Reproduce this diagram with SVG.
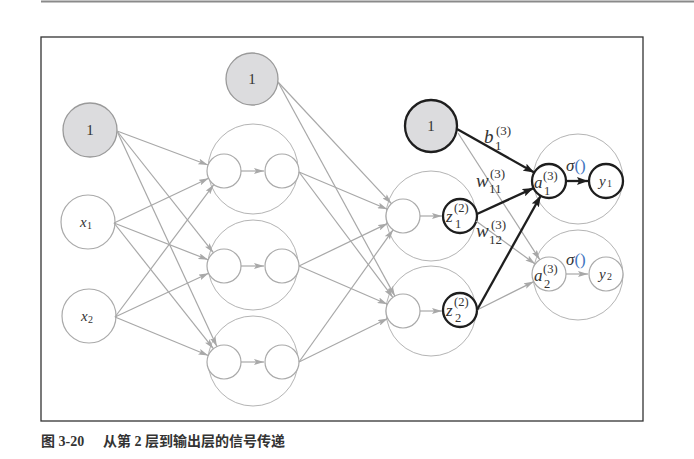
<svg xmlns="http://www.w3.org/2000/svg" width="694" height="459" viewBox="0 0 694 459">
<defs>
<marker id="ag" viewBox="0 0 10 6" refX="10" refY="3" markerWidth="10" markerHeight="6" markerUnits="userSpaceOnUse" orient="auto">
<path d="M0,0 L10,3 L0,6 L2,3 Z" fill="#a8a8a8"/>
</marker>
<marker id="ab" viewBox="0 0 11 8" refX="11" refY="4" markerWidth="11" markerHeight="8" markerUnits="userSpaceOnUse" orient="auto">
<path d="M0,0 L11,4 L0,8 L2,4 Z" fill="#1e1e1e"/>
</marker>
</defs>
<style>
.big{fill:none;stroke:#b4b4b4;stroke-width:1}
.sm{fill:#fff;stroke:#aaa;stroke-width:1.2}
.smk{fill:#fff;stroke:#1e1e1e;stroke-width:2.3}
.bias{fill:#dcdcde;stroke:#9a9a9a;stroke-width:1.3}
.biask{fill:#dcdcde;stroke:#1e1e1e;stroke-width:2.3}
.eg{stroke:#a8a8a8;stroke-width:1.2;fill:none;marker-end:url(#ag)}
.ek{stroke:#1e1e1e;stroke-width:2.3;fill:none;marker-end:url(#ab)}
.m{font-style:italic;fill:#333}
.n{font-style:normal;fill:#333}
.cap{font-weight:bold;fill:#333;font-size:14px}
</style>
<rect width="694" height="459" fill="#fff"/>
<line x1="41" y1="1.5" x2="694" y2="1.5" stroke="#8a8a8a" stroke-width="2.2"/>
<rect x="41" y="37" width="602" height="384" fill="none" stroke="#333" stroke-width="1.3"/>

<g font-family="Liberation Serif, DejaVu Serif, serif">
<g id="layer1-neurons">
<g id="n1a"><circle class="big" cx="253" cy="169" r="45"/><circle class="sm" cx="224" cy="171" r="17"/><circle class="sm" cx="282" cy="171" r="17"/></g>
<g id="n1b"><circle class="big" cx="253" cy="265" r="45"/><circle class="sm" cx="224" cy="266" r="17"/><circle class="sm" cx="282" cy="266" r="17"/></g>
<g id="n1c"><circle class="big" cx="253" cy="361" r="45"/><circle class="sm" cx="224" cy="362" r="17"/><circle class="sm" cx="282" cy="362" r="17"/></g>
</g>
<g id="layer2-neurons">
<g id="n2a"><circle class="big" cx="431" cy="216" r="45"/><circle class="sm" cx="403" cy="216" r="17"/><circle class="smk" cx="460" cy="216" r="17"/>
<text class="m" x="446" y="222" font-size="17">z</text><text class="n" x="454" y="212" font-size="12.5">(2)</text><text class="n" x="455" y="228" font-size="12.5">1</text></g>
<g id="n2b"><circle class="big" cx="431" cy="311" r="45"/><circle class="sm" cx="403" cy="311" r="17"/><circle class="smk" cx="460" cy="310" r="17"/>
<text class="m" x="446" y="316" font-size="17">z</text><text class="n" x="454" y="306" font-size="12.5">(2)</text><text class="n" x="455" y="322" font-size="12.5">2</text></g>
</g>
<g id="output-neurons">
<g id="o1"><circle class="big" cx="578" cy="179" r="45"/><circle class="smk" cx="549" cy="181" r="17"/><circle class="smk" cx="606" cy="181" r="17"/>
<text class="m" x="534" y="188" font-size="17">a</text><text class="n" x="543" y="180" font-size="12.5">(3)</text><text class="n" x="544" y="195" font-size="12.5">1</text>
<text class="m" x="599" y="186" font-size="15">y</text><text class="n" x="607" y="187" font-size="10">1</text>
<text class="m" x="566" y="171" font-size="17">σ<tspan font-style="normal" fill="#3f74c0">()</tspan></text></g>
<g id="o2"><circle class="big" cx="578" cy="275" r="45"/><circle class="sm" cx="549" cy="274" r="17"/><circle class="sm" cx="606" cy="274" r="17"/>
<text class="m" x="534" y="281" font-size="17">a</text><text class="n" x="543" y="273" font-size="12.5">(3)</text><text class="n" x="544" y="288" font-size="12.5">2</text>
<text class="m" x="599" y="279" font-size="15">y</text><text class="n" x="607" y="280" font-size="10">2</text>
<text class="m" x="566" y="265" font-size="17">σ<tspan font-style="normal" fill="#3f74c0">()</tspan></text></g>
</g>
<g id="inputs">
<g id="bias0"><circle class="bias" cx="90" cy="130" r="27"/><text class="n" x="90" y="135" font-size="15" text-anchor="middle">1</text></g>
<g id="x1"><circle class="sm" cx="88" cy="222" r="27"/><text class="m" x="80" y="227" font-size="15">x</text><text class="n" x="87" y="229" font-size="10">1</text></g>
<g id="x2"><circle class="sm" cx="89" cy="316" r="27"/><text class="m" x="81" y="321" font-size="15">x</text><text class="n" x="88" y="323" font-size="10">2</text></g>
</g>
<g id="bias1"><circle class="bias" cx="252" cy="79" r="26"/><text class="n" x="252" y="84" font-size="15" text-anchor="middle">1</text></g>
<g id="bias2"><circle class="biask" cx="431" cy="126" r="26"/><text class="n" x="431" y="131" font-size="15" text-anchor="middle">1</text></g>

<g id="connectors">
<line class="eg" x1="117" y1="131" x2="208" y2="165"/>
<line class="eg" x1="117" y1="131" x2="213.4" y2="252.7"/>
<line class="eg" x1="117" y1="131" x2="216.9" y2="346.6"/>
<line class="eg" x1="114" y1="223" x2="208.6" y2="178.3"/>
<line class="eg" x1="114" y1="223" x2="208.2" y2="259.8"/>
<line class="eg" x1="114" y1="223" x2="213.4" y2="348.7"/>
<line class="eg" x1="115" y1="317" x2="213.8" y2="184.6"/>
<line class="eg" x1="115" y1="317" x2="208.6" y2="273.2"/>
<line class="eg" x1="115" y1="317" x2="208.3" y2="355.5"/>
<line class="eg" x1="241" y1="171" x2="264" y2="171"/>
<line class="eg" x1="241" y1="266" x2="264" y2="266"/>
<line class="eg" x1="241" y1="362" x2="264" y2="362"/>
<line class="eg" x1="299" y1="172" x2="387.4" y2="209.3"/>
<line class="eg" x1="299" y1="172" x2="392.9" y2="297.4"/>
<line class="eg" x1="299" y1="266" x2="387.7" y2="223.4"/>
<line class="eg" x1="299" y1="266" x2="387.4" y2="304.2"/>
<line class="eg" x1="299" y1="362" x2="393.1" y2="229.8"/>
<line class="eg" x1="299" y1="362" x2="387.7" y2="318.5"/>
<line class="eg" x1="278" y1="82" x2="391.4" y2="203.6"/>
<line class="eg" x1="278" y1="82" x2="394.9" y2="296.1"/>
<line class="eg" x1="420" y1="216" x2="442" y2="216"/>
<line class="eg" x1="420" y1="311" x2="442" y2="311"/>
<line class="eg" x1="458" y1="133" x2="539.8" y2="259.7"/>
<line class="eg" x1="476" y1="221" x2="535.2" y2="264"/>
<line class="eg" x1="477" y1="310" x2="533.8" y2="281.6"/>
<line class="eg" x1="566" y1="274" x2="588" y2="274"/>
<line class="ek" x1="457" y1="129" x2="534.2" y2="172.6"/>
<line class="ek" x1="477" y1="214" x2="533.5" y2="188.1"/>
<line class="ek" x1="477" y1="310" x2="540.7" y2="195.8"/>
<line class="ek" x1="566" y1="181" x2="588" y2="181"/>
</g>
<g id="labels">
<text class="m" x="484" y="143" font-size="19">b</text><text class="n" x="495" y="150" font-size="13">1</text><text class="n" x="496" y="135" font-size="13">(3)</text>
<text class="m" x="476" y="187" font-size="19">w</text><text class="n" x="490" y="178" font-size="13">(3)</text><text class="n" x="489" y="193" font-size="13">11</text>
<text class="m" x="476" y="237" font-size="19">w</text><text class="n" x="491" y="229" font-size="13">(3)</text><text class="n" x="489" y="244" font-size="13">12</text>
</g>
</g>
<text class="cap" x="41" y="446" font-family="Liberation Serif, Noto Sans CJK SC, serif">图 3-20</text>
<text class="cap" x="103" y="446" font-family="Liberation Serif, Noto Sans CJK SC, serif">从第 2 层到输出层的信号传递</text>
</svg>
